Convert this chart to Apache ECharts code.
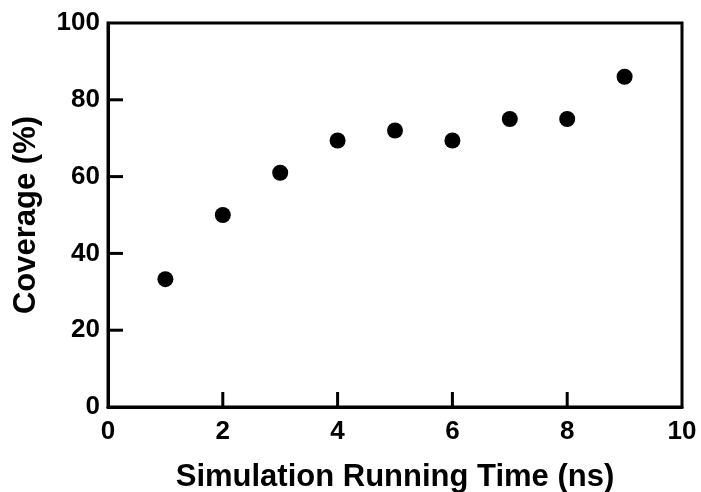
<!DOCTYPE html>
<html>
<head>
<meta charset="utf-8">
<script src="https://cdn.jsdelivr.net/npm/echarts@6/dist/echarts.min.js"></script>
<style>
html,body{margin:0;padding:0;background:#fff;}
#chart{width:701px;height:492px;}
</style>
</head>
<body>
<div id="chart"></div>
<script>
const timeNs = [1, 2, 3, 4, 5, 6, 7, 8, 9];
const coverage = [33.3, 50, 61, 69.4, 72, 69.4, 75, 75, 86];
const xTickValues = [2, 4, 6, 8];
const yTickValues = [20, 40, 60, 80];
const xTitle = 'Simulation Running Time (ns)';
const yTitle = 'Coverage (%)';

const points = timeNs.map((t, i) => [t, coverage[i]]);
const tickItems = xTickValues.map(v => [0, v]).concat(yTickValues.map(v => [1, v]));
const font = 'Liberation Sans, Arial, Helvetica, sans-serif';
const TICK_LEN = 15;

const chart = echarts.init(document.getElementById('chart'), null, {renderer: 'canvas'});
chart.setOption({
  animation: false,
  backgroundColor: '#fff',
  grid: {
    left: 108, right: 19, top: 23, bottom: 85,
    containLabel: false, outerBoundsMode: 'none',
    show: true, borderColor: '#000', borderWidth: 3, backgroundColor: 'transparent'
  },
  xAxis: {
    type: 'value', min: 0, max: 10, interval: 2,
    name: xTitle, nameLocation: 'middle', nameGap: 55,
    nameTextStyle: {fontFamily: font, fontWeight: 'bold', fontSize: 31, color: '#000'},
    axisLine: {show: true, onZero: false, lineStyle: {color: '#000', width: 3}},
    axisTick: {show: false},
    axisLabel: {fontFamily: font, fontWeight: 'bold', fontSize: 26, color: '#000', margin: 12},
    splitLine: {show: false}
  },
  yAxis: {
    type: 'value', min: 0, max: 100, interval: 20,
    name: yTitle, nameLocation: 'middle', nameGap: 66, nameRotate: 90,
    nameTextStyle: {fontFamily: font, fontWeight: 'bold', fontSize: 31, color: '#000'},
    axisLine: {show: true, onZero: false, lineStyle: {color: '#000', width: 3}},
    axisTick: {show: false},
    axisLabel: {fontFamily: font, fontWeight: 'bold', fontSize: 26, color: '#000', margin: 8},
    splitLine: {show: false}
  },
  series: [{
    type: 'custom',
    silent: true,
    clip: false,
    data: tickItems,
    encode: {x: 1, y: 1},
    renderItem: function (params, api) {
      const isY = api.value(0) === 1;
      const v = api.value(1);
      const p = isY ? api.coord([0, v]) : api.coord([v, 0]);
      const end = isY ? [p[0] + TICK_LEN, p[1]] : [p[0], p[1] - TICK_LEN];
      return {
        type: 'line',
        shape: {x1: p[0], y1: p[1], x2: end[0], y2: end[1]},
        style: {stroke: '#000', lineWidth: 3}
      };
    }
  }, {
    type: 'scatter',
    data: points,
    symbol: 'circle',
    symbolSize: 16,
    itemStyle: {color: '#000', opacity: 1}
  }]
});
</script>
</body>
</html>
